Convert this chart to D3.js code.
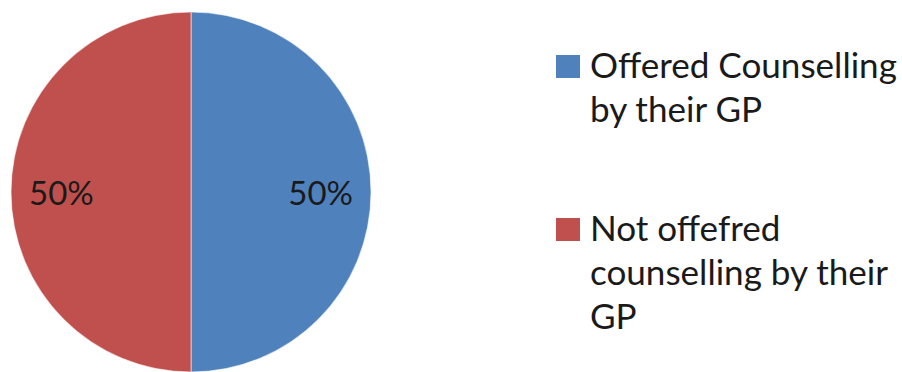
<!DOCTYPE html>
<html>
<head>
<meta charset="utf-8">
<script src="https://cdn.jsdelivr.net/npm/d3@7"></script>
<style>
  html, body { margin: 0; padding: 0; background: #fff; }
  svg { display: block; }
  text { font-family: Lato, "Open Sans", "DejaVu Sans", sans-serif; fill: #1a1a1a; }
</style>
</head>
<body>
<svg id="chart" width="902" height="372"></svg>
<script>
// Survey responses: share of patients offered counselling by their GP
const categories = ["Offered Counselling by their GP", "Not offefred counselling by their GP"];
const values = [50, 50];
const colors = ["#4F81BD", "#C0504D"];
const legendLines = [
  ["Offered Counselling", "by their GP"],
  ["Not offefred", "counselling by their", "GP"]
];

const svg = d3.select("#chart");
const W = 902, H = 372;
const cx = 191, cy = 192, radius = 180;

const pie = d3.pie().sort(null).value(d => d.value);
const data = pie(categories.map((c, i) => ({ name: c, value: values[i], color: colors[i] })));

const arc = d3.arc().innerRadius(0).outerRadius(radius);
const labelArc = d3.arc().innerRadius(radius * 0.72).outerRadius(radius * 0.72);

const g = svg.append("g").attr("transform", `translate(${cx},${cy})`);

g.selectAll("path.slice")
  .data(data)
  .enter().append("path")
  .attr("class", "slice")
  .attr("d", arc)
  .attr("fill", d => d.data.color)
  .attr("stroke", "#ffffff")
  .attr("stroke-opacity", 0.55)
  .attr("stroke-width", 1);

const total = d3.sum(values);
const pct = d3.format(".0%");

g.selectAll("text.pct")
  .data(data)
  .enter().append("text")
  .attr("class", "pct")
  .attr("text-anchor", "middle")
  .attr("font-size", 33)
  .attr("transform", d => {
    const [x, y] = labelArc.centroid(d);
    return `translate(${x},${y + 13})`;
  })
  .text(d => pct(d.data.value / total));

// Legend
const legendX = 556, textX = 590, sw = 24;
const lineGap = 44;
const firstBaselines = [78, 241];
const fontSize = 32;

const legend = svg.append("g");
data.forEach((d, i) => {
  const base = firstBaselines[i];
  legend.append("rect")
    .attr("x", legendX)
    .attr("y", base - 23)
    .attr("width", sw)
    .attr("height", 23)
    .attr("fill", d.data.color);
  const t = legend.append("text")
    .attr("x", textX)
    .attr("y", base)
    .attr("font-size", fontSize);
  legendLines[i].forEach((line, j) => {
    t.append("tspan")
      .attr("x", textX)
      .attr("y", base + j * lineGap)
      .text(line);
  });
});

// Fit the longest legend line to the available width
const probe = legend.select("text tspan").node();
const w = probe.getComputedTextLength();
const target = 307;
const fs = fontSize * target / w;
legend.selectAll("text").attr("font-size", fs);
</script>
</body>
</html>
